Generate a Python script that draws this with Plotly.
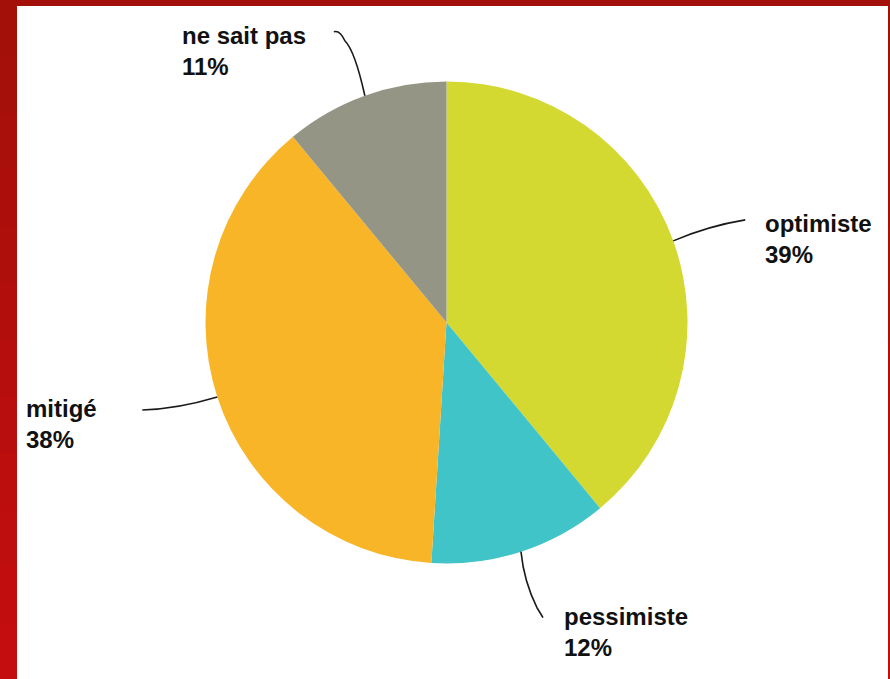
import math
import plotly.graph_objects as go

# ---- data ----
categories = ["optimiste", "pessimiste", "mitigé", "ne sait pas"]
values = [39, 12, 38, 11]
pct_labels = ["39%", "12%", "38%", "11%"]
colors = ["#D4D932", "#40C4C8", "#F7B527", "#959585"]

W, H = 890, 679

def px(x):
    return x / W

def py(y):
    return 1 - y / H

# pie geometry (pixels)
cx, cy, r = 446.5, 322.5, 241

fig = go.Figure()
fig.add_trace(go.Pie(
    labels=categories,
    values=values,
    marker=dict(colors=colors, line=dict(width=0)),
    sort=False,
    direction="clockwise",
    rotation=0,
    textinfo="none",
    hoverinfo="label+percent",
    showlegend=False,
    domain=dict(x=[px(cx - r), px(cx + r)], y=[py(cy + r), py(cy - r)]),
))

shapes = []
# red frame with slight vertical gradient
n = 12
def lerp(a, b, t):
    return int(round(a + (b - a) * t))
top_c, bot_c = (0xA3, 0x10, 0x0A), (0xC4, 0x0D, 0x0E)
for i in range(n):
    t = i / (n - 1)
    c = "rgb(%d,%d,%d)" % tuple(lerp(top_c[k], bot_c[k], t) for k in range(3))
    y0 = H * i / n
    y1 = H * (i + 1) / n
    shapes.append(dict(type="rect", xref="paper", yref="paper", layer="below",
                       x0=0, x1=1, y0=py(y1), y1=py(y0),
                       fillcolor=c, line=dict(width=0)))
shapes.append(dict(type="rect", xref="paper", yref="paper", layer="below",
                   x0=px(17), x1=px(888), y0=0, y1=py(6),
                   fillcolor="white", line=dict(width=0)))

# leader lines: start at slice mid-angle on pie edge
cum = 0
total = sum(values)
mids = []
for v in values:
    mids.append((cum + v / 2) / total * 2 * math.pi)
    cum += v

def edge(ang, rr=r):
    return cx + rr * math.sin(ang), cy - rr * math.cos(ang)

leader = {
    "optimiste": ((35, -15), (72, -21)),
    "pessimiste": ((8, 55), (22, 66)),
    "mitigé": ((-40, 12), (-75, 13)),
    "ne sait pas": ((-20, -60), (-31, -64)),
}
def path_pts(name, ang):
    x0, y0 = edge(ang)
    (c1x, c1y), (ex, ey) = leader[name]
    return (x0, y0), (x0 + c1x, y0 + c1y), (x0 + ex, y0 + ey)

for name, ang in zip(categories, mids):
    (x0, y0), (qx, qy), (x1, y1) = path_pts(name, ang)
    if name == "ne sait pas":
        p = "M %f %f Q %f %f %f %f Q %f %f %f %f" % (
            px(x0), py(y0), px(x0 - 10), py(y0 - 45), px(x0 - 20), py(y0 - 55),
            px(x0 - 25), py(y0 - 66), px(x1), py(y1))
    elif name == "pessimiste":
        p = "M %f %f Q %f %f %f %f Q %f %f %f %f" % (
            px(x0), py(y0), px(x0 + 3), py(y0 + 30), px(x0 + 16), py(y0 + 56),
            px(x0 + 21), py(y0 + 64), px(x1), py(y1))
    else:
        p = "M %f %f Q %f %f %f %f" % (px(x0), py(y0), px(qx), py(qy), px(x1), py(y1))
    shapes.append(dict(type="path", xref="paper", yref="paper", path=p,
                       line=dict(color="#1a1a1a", width=1.6), layer="above"))

label_pos = {
    "optimiste": (763, 239),
    "pessimiste": (562, 632),
    "mitigé": (24, 424),
    "ne sait pas": (180, 51),
}
annotations = []
for name, pct in zip(categories, pct_labels):
    lx, ly = label_pos[name]
    annotations.append(dict(
        xref="paper", yref="paper", x=px(lx), y=py(ly),
        xanchor="left", yanchor="middle", align="left", showarrow=False,
        text="<b>%s<br>%s</b>" % (name, pct),
        font=dict(family="Liberation Sans, Arial, sans-serif", size=24, color="#111111"),
    ))

fig.update_layout(
    width=W, height=H, autosize=False,
    margin=dict(l=0, r=0, t=0, b=0),
    paper_bgcolor="#B20E0B", plot_bgcolor="white",
    shapes=shapes, annotations=annotations,
)
fig.write_html("out.html", config={"displayModeBar": False},
               post_script="document.body.style.margin='0';document.body.style.overflow='hidden';")
